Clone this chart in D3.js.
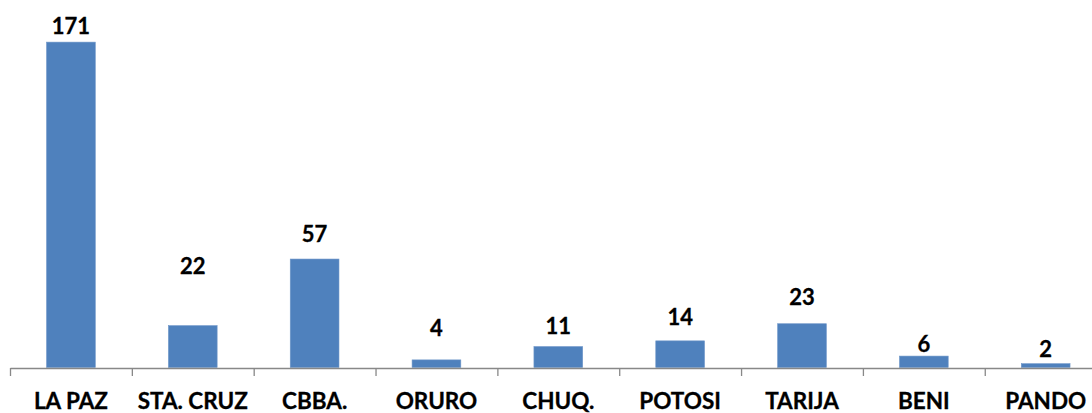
<!DOCTYPE html>
<html>
<head>
<meta charset="utf-8">
<script src="https://cdn.jsdelivr.net/npm/d3@7"></script>
<style>
  html, body { margin: 0; padding: 0; background: #fff; }
  svg { display: block; }
  text { font-family: Lato, "Open Sans", sans-serif; font-weight: 700; fill: #000; }
</style>
</head>
<body>
<svg id="chart" width="1092" height="413"></svg>
<script>
// ---- data ----
const categories = ["LA PAZ", "STA. CRUZ", "CBBA.", "ORURO", "CHUQ.", "POTOSI", "TARIJA", "BENI", "PANDO"];
const values = [171, 22, 57, 4, 11, 14, 23, 6, 2];

// ---- label lift above each bar (px, as placed in the original) ----
const labelLift = [8, 52, 17, 24, 13, 16, 19, 4, 7];

const W = 1092, H = 413;
const left = 10, right = 1106.6, baseY = 367.5, topY = 25;
const svg = d3.select("#chart");

const x = d3.scaleBand().domain(categories).range([left, right]).padding(0);
const y = d3.scaleLinear().domain([0, 180]).range([baseY, topY]);
const barW = x.bandwidth() * 0.4;

// bars
svg.append("g").selectAll("rect")
  .data(values)
  .join("rect")
  .attr("x", (d, i) => x(categories[i]) + (x.bandwidth() - barW) / 2)
  .attr("y", d => y(d))
  .attr("width", barW)
  .attr("height", d => baseY - y(d))
  .attr("fill", "#4F81BD")
  .attr("stroke", "#6E96C8")
  .attr("stroke-width", 0.6);

// value labels
svg.append("g").selectAll("text")
  .data(values)
  .join("text")
  .attr("x", (d, i) => x(categories[i]) + x.bandwidth() / 2)
  .attr("y", (d, i) => y(d) - labelLift[i])
  .attr("text-anchor", "middle")
  .style("font-size", "22px")
  .style("stroke", "#000")
  .style("stroke-width", 0.3)
  .text(d => d);

// axis line + boundary ticks
const bounds = d3.scaleLinear().domain([0, categories.length]).range([left, right]);
const tickAxis = svg.append("g")
  .attr("transform", `translate(0,${baseY + 0.5})`)
  .call(d3.axisBottom(bounds).tickValues(d3.range(categories.length + 1)).tickSize(8).tickSizeOuter(0).tickFormat(""));
tickAxis.selectAll("path, line").attr("stroke", "#888888").attr("stroke-width", 1.3);

// category labels
const labAxis = svg.append("g")
  .attr("transform", `translate(0,${baseY})`)
  .call(d3.axisBottom(x).tickSize(0).tickPadding(41));
labAxis.select(".domain").remove();
labAxis.selectAll("text")
  .attr("dy", "0")
  .style("font-size", "22.5px")
  .style("font-family", "Lato, 'Open Sans', sans-serif")
  .style("font-weight", "700")
  .style("stroke", "#000")
  .style("stroke-width", 0.3)
  .attr("fill", "#000");
</script>
</body>
</html>
